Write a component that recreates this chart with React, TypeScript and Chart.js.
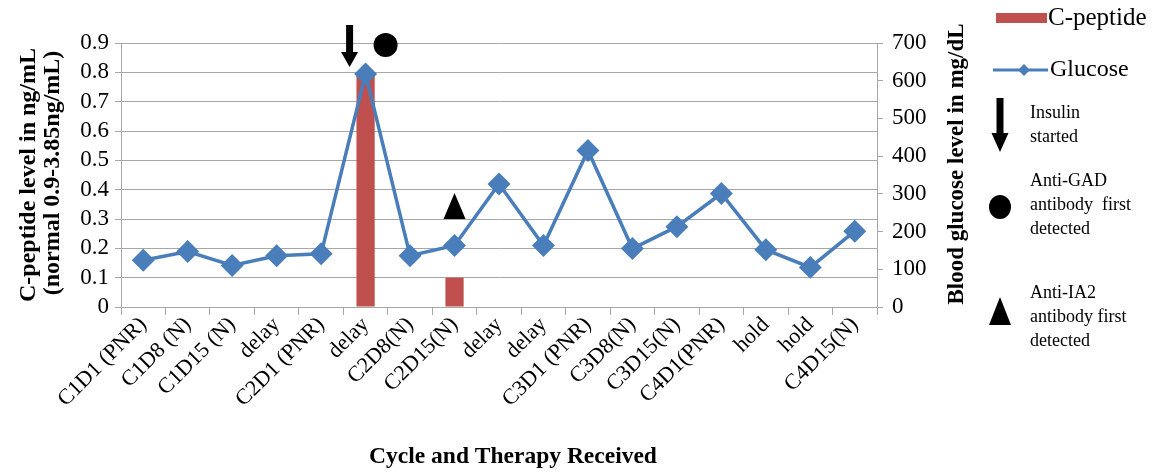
import React, { useEffect, useRef } from "react";
import { Chart, registerables } from "chart.js";

Chart.register(...registerables);

const categories = [
  "C1D1 (PNR)", "C1D8 (N)", "C1D15 (N)", "delay", "C2D1 (PNR)", "delay",
  "C2D8(N)", "C2D15(N)", "delay", "delay", "C3D1 (PNR)", "C3D8(N)",
  "C3D15(N)", "C4D1(PNR)", "hold", "hold", "C4D15(N)",
];
const cPeptide: (number | null)[] = [
  null, null, null, null, null, 0.8, null, 0.1, null, null, null, null, null, null, null, null, null,
];
const glucose = [124, 147, 110, 136, 141, 618, 136, 163, 326, 163, 415, 155, 213, 301, 152, 105, 201];
const leftTicks = [0, 0.1, 0.2, 0.3, 0.4, 0.5, 0.6, 0.7, 0.8, 0.9];
const rightTicks = [0, 100, 200, 300, 400, 500, 600, 700];
const insulinIndex = 5;
const gadIndex = 5;
const ia2Index = 7;

const SERIF = "'Liberation Serif', 'Times New Roman', serif";
const RED = "#C0504D";
const BLUE = "#4A7EBB";
const GRID = "#a6a6a6";

const overlayPlugin = {
  id: "overlay",
  afterDraw(chart: any) {
    const ctx = chart.ctx as CanvasRenderingContext2D;
    const x = chart.scales.x;
    const area = chart.chartArea;
    ctx.save();
    ctx.fillStyle = "#000";

    const drawArrow = (cx: number, top: number, shaftBottom: number, tip: number, sw: number, hw: number) => {
      ctx.fillRect(cx - sw / 2, top, sw, shaftBottom - top);
      ctx.beginPath();
      ctx.moveTo(cx - hw / 2, shaftBottom);
      ctx.lineTo(cx + hw / 2, shaftBottom);
      ctx.lineTo(cx, tip);
      ctx.closePath();
      ctx.fill();
    };
    const drawTri = (cx: number, apex: number, base: number, hw: number) => {
      ctx.beginPath();
      ctx.moveTo(cx, apex);
      ctx.lineTo(cx + hw, base);
      ctx.lineTo(cx - hw, base);
      ctx.closePath();
      ctx.fill();
    };
    const drawEll = (cx: number, cy: number, rx: number, ry: number) => {
      ctx.beginPath();
      ctx.ellipse(cx, cy, rx, ry, 0, 0, Math.PI * 2);
      ctx.fill();
    };

    const px5 = x.getPixelForValue(insulinIndex);
    drawArrow(px5 - 16, 25, 52, 67, 7, 17);
    drawEll(x.getPixelForValue(gadIndex) + 20, 45, 12, 12);
    drawTri(x.getPixelForValue(ia2Index), 193, 219, 11);

    // axis titles
    ctx.textAlign = "center";
    ctx.textBaseline = "middle";
    const midY = (area.top + area.bottom) / 2;
    ctx.font = `bold 24px ${SERIF}`;
    ctx.save();
    ctx.translate(29, midY);
    ctx.rotate(-Math.PI / 2);
    ctx.fillText("C-peptide level in ng/mL", 0, 0);
    ctx.restore();
    ctx.save();
    ctx.translate(53, midY - 2);
    ctx.rotate(-Math.PI / 2);
    ctx.fillText("(normal 0.9-3.85ng/mL)", 0, 0);
    ctx.restore();
    ctx.font = `bold 23px ${SERIF}`;
    ctx.save();
    ctx.translate(957, 164);
    ctx.rotate(-Math.PI / 2);
    ctx.fillText("Blood glucose level in mg/dL", 0, 0);
    ctx.restore();
    ctx.font = `bold 23.5px ${SERIF}`;
    ctx.fillText("Cycle and Therapy Received", 513, 457);

    // legend
    ctx.textAlign = "left";
    ctx.fillStyle = RED;
    ctx.fillRect(996, 13, 51, 10);
    ctx.fillStyle = "#000";
    ctx.font = `25px ${SERIF}`;
    ctx.fillText("C-peptide", 1048, 18);
    ctx.strokeStyle = BLUE;
    ctx.lineWidth = 3;
    ctx.beginPath();
    ctx.moveTo(993, 70);
    ctx.lineTo(1048, 70);
    ctx.stroke();
    ctx.fillStyle = BLUE;
    ctx.beginPath();
    ctx.moveTo(1024, 64);
    ctx.lineTo(1030, 70);
    ctx.lineTo(1024, 76);
    ctx.lineTo(1018, 70);
    ctx.closePath();
    ctx.fill();
    ctx.fillStyle = "#000";
    ctx.font = `24px ${SERIF}`;
    ctx.fillText("Glucose", 1050, 70);

    drawArrow(1000, 98, 133, 152, 7, 17);
    drawEll(1000, 207, 11, 12);
    drawTri(1000, 297, 325, 11);

    ctx.font = `18px ${SERIF}`;
    ctx.fillText("Insulin", 1030, 113);
    ctx.fillText("started", 1030, 137);
    ctx.fillText("Anti-GAD", 1030, 181);
    ctx.fillText("antibody  first", 1030, 205);
    ctx.fillText("detected", 1030, 229);
    ctx.fillText("Anti-IA2", 1030, 293);
    ctx.fillText("antibody first", 1030, 317);
    ctx.fillText("detected", 1030, 341);
    ctx.restore();
  },
};

export default function App() {
  const ref = useRef<HTMLCanvasElement | null>(null);
  useEffect(() => {
    if (!ref.current) return;
    const chart = new Chart(ref.current, {
      type: "bar",
      data: {
        labels: categories,
        datasets: [
          {
            type: "line",
            label: "Glucose",
            data: glucose,
            yAxisID: "y1",
            borderColor: BLUE,
            backgroundColor: BLUE,
            borderWidth: 3.5,
            pointStyle: "rectRot",
            pointRadius: 9,
            pointBackgroundColor: BLUE,
            pointBorderColor: BLUE,
            tension: 0,
            order: 0,
          } as any,
          {
            type: "bar",
            label: "C-peptide",
            data: cPeptide,
            yAxisID: "y",
            backgroundColor: RED,
            barPercentage: 0.41,
            categoryPercentage: 1,
            order: 1,
          } as any,
        ],
      },
      options: {
        animation: false,
        responsive: true,
        maintainAspectRatio: false,
        layout: { padding: { left: 0, right: 216, top: 43, bottom: 0 } },
        plugins: { legend: { display: false }, tooltip: { enabled: false } },
        scales: {
          x: {
            offset: true,
            grid: { display: true, drawOnChartArea: false, offset: true, tickLength: 8, color: GRID },
            border: { color: GRID },
            ticks: {
              autoSkip: false,
              maxRotation: 45,
              minRotation: 45,
              padding: -3,
              color: "#000",
              font: { family: SERIF, size: 22 },
            },
            afterFit(scale: any) {
              scale.height = 165;
            },
          },
          y: {
            position: "left",
            min: 0,
            max: 0.9,
            afterBuildTicks(scale: any) {
              scale.ticks = leftTicks.map((v) => ({ value: v }));
            },
            grid: { color: GRID, tickLength: 6 },
            border: { color: GRID },
            ticks: {
              autoSkip: false,
              padding: 6,
              color: "#000",
              font: { family: SERIF, size: 23 },
              callback: (v: any) => (Number(v) === 0 ? "0" : Number(v).toFixed(1)),
            },
            afterFit(scale: any) {
              scale.width = 121;
            },
          },
          y1: {
            position: "right",
            min: 0,
            max: 700,
            afterBuildTicks(scale: any) {
              scale.ticks = rightTicks.map((v) => ({ value: v }));
            },
            grid: { drawOnChartArea: false, color: GRID, tickLength: 6 },
            border: { color: GRID },
            ticks: {
              autoSkip: false,
              padding: 9,
              color: "#000",
              font: { family: SERIF, size: 23 },
            },
            afterFit(scale: any) {
              scale.width = 60;
            },
          },
        },
      },
      plugins: [overlayPlugin],
    });
    return () => chart.destroy();
  }, []);
  return (
    <div style={{ position: "absolute", left: 0, top: 0, width: 1153, height: 472, background: "#fff" }}>
      <canvas ref={ref} />
    </div>
  );
}
